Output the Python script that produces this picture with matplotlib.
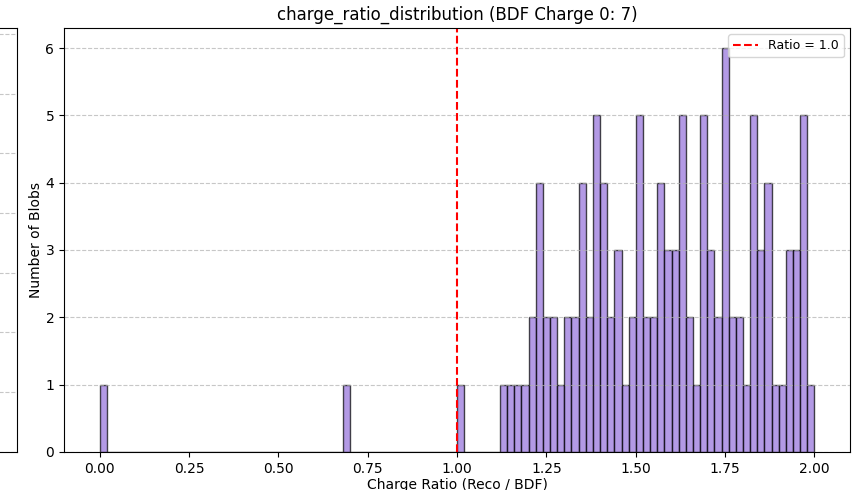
import numpy as np
import matplotlib
matplotlib.use('Agg')
import matplotlib.pyplot as plt

# bin edges of the histogram (width 0.02 from 0 to 2)
bin_edges = np.round(np.arange(0, 2.0001, 0.02), 2)

# non-empty bins: left edge -> count
bin_lefts = [0.00, 0.68, 1.00,
             1.12, 1.14, 1.16, 1.18, 1.20, 1.22, 1.24, 1.26, 1.28, 1.30,
             1.32, 1.34, 1.36, 1.38, 1.40, 1.42, 1.44, 1.46, 1.48, 1.50,
             1.52, 1.54, 1.56, 1.58, 1.60, 1.62, 1.64, 1.66, 1.68, 1.70,
             1.72, 1.74, 1.76, 1.78, 1.80, 1.82, 1.84, 1.86, 1.88, 1.90,
             1.92, 1.94, 1.96, 1.98]
bin_counts = [1, 1, 1,
              1, 1, 1, 1, 2, 4, 2, 2, 1, 2,
              2, 4, 2, 5, 4, 2, 3, 1, 2, 5,
              2, 2, 4, 3, 3, 5, 2, 1, 5, 3,
              2, 6, 2, 2, 1, 5, 3, 4, 1, 1,
              3, 3, 5, 1]

counts = np.zeros(len(bin_edges) - 1)
for left, c in zip(bin_lefts, bin_counts):
    counts[int(round(left / 0.02))] = c

fig = plt.figure(figsize=(8.63, 4.90), dpi=100)

# neighbouring panel, mostly cut off at the left edge
ax0 = fig.add_axes([-0.2, 0.078, 0.22, 0.865])
ax0.set_ylim(0, 7.1)
ax0.set_yticks(range(8))
ax0.set_xticks([])
ax0.tick_params(left=False, labelleft=False)
ax0.grid(True, axis='y', linestyle='--', alpha=0.7)

ax = fig.add_axes([0.0742, 0.078, 0.911, 0.865])
ax.hist(bin_edges[:-1], bins=bin_edges, weights=counts,
        color='mediumpurple', edgecolor='black', alpha=0.7)
ax.axvline(1.0, color='red', linestyle='--', label='Ratio = 1.0')
ax.set_title('charge_ratio_distribution (BDF Charge 0: 7)', fontsize=12)
ax.set_xlabel('Charge Ratio (Reco / BDF)', fontsize=10, labelpad=2)
ax.set_ylabel('Number of Blobs', fontsize=10, labelpad=2)
ax.grid(True, axis='y', linestyle='--', alpha=0.7)
ax.legend(loc='upper right', fontsize=9)

fig.savefig('out.png', dpi=100)
